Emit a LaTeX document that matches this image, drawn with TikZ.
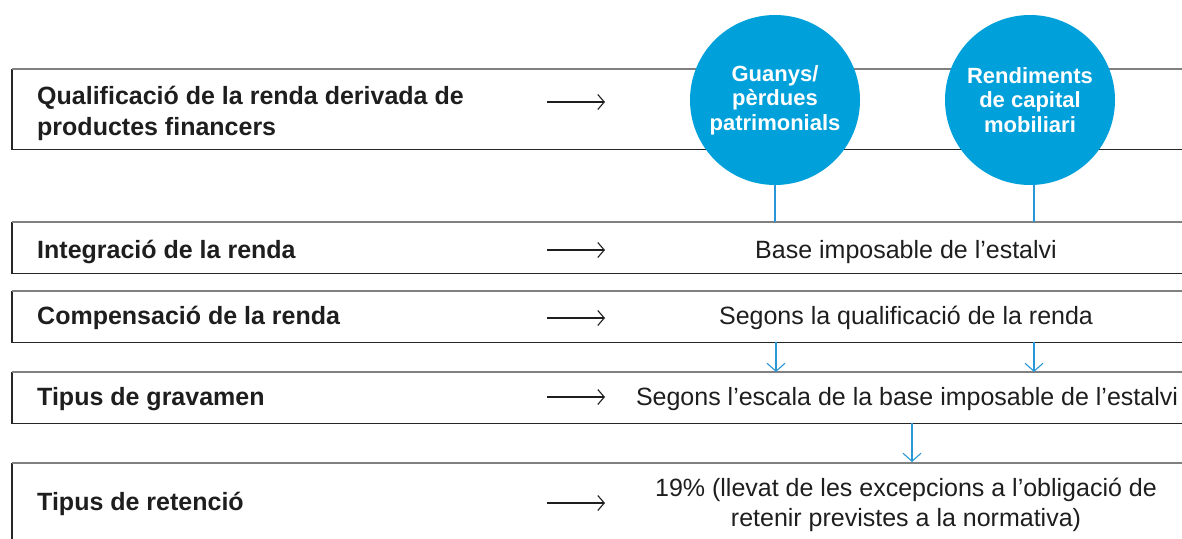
\documentclass[tikz,border=0pt]{standalone}
\usepackage{fontspec}
\setmainfont{Liberation Sans}
\usetikzlibrary{arrows.meta,calc}
\definecolor{cblue}{RGB}{0,160,218}
\definecolor{lblue}{RGB}{40,150,215}
\definecolor{txt}{RGB}{30,30,30}
\begin{document}
\begin{tikzpicture}[x=1pt,y=-1pt,
  topl/.style={draw=black!50,line width=1.3pt},
  botl/.style={draw=black!85,line width=1.1pt},
  lab/.style={anchor=west,inner sep=0pt,font=\bfseries\fontsize{25}{31}\selectfont,text=txt,align=left},
  res/.style={inner sep=0pt,font=\fontsize{25}{30}\selectfont,text=txt,align=center},
  circ/.style={circle,fill=cblue,minimum size=170pt,inner sep=0pt,text=white,align=center,font=\bfseries\fontsize{22}{24.5}\selectfont},
  harr/.style={-{Straight Barb[length=6.5pt,width=15pt,line width=1.1pt]},line width=1.2pt,draw=txt},
  varr/.style={-{Straight Barb[length=8pt,width=18pt]},line width=1.1pt,draw=lblue},
  vline/.style={line width=1.1pt,draw=lblue},
  boxn/.style={inner sep=0pt,anchor=north west}]
\useasboundingbox (0,0) rectangle (1182,538);
% boxes (invisible named nodes spanning each band)
\node[boxn,minimum width=1170pt,minimum height=80pt] (b1) at (12,69) {};
\node[boxn,minimum width=1170pt,minimum height=51pt] (b2) at (12,222) {};
\node[boxn,minimum width=1170pt,minimum height=51pt] (b3) at (12,291) {};
\node[boxn,minimum width=1170pt,minimum height=51pt] (b4) at (12,372) {};
\node[boxn,minimum width=1170pt,minimum height=76pt] (b5) at (12,463) {};
\foreach \b in {b1,b2,b3,b4}{
  \draw[botl] (\b.north west) -- (\b.south west) -- (\b.south east);
  \draw[topl] (\b.north west) -- (\b.north east);
}
\draw[botl] (b5.north west) -- (b5.south west);
\draw[topl] (b5.north west) -- (b5.north east);
% circles
\node[circ] (c1) at (775,100) {Guanys/\\pèrdues\\patrimonials};
\node[circ] (c2) at (1030,100) {Rendiments\\de capital\\mobiliari};
% labels
\node[lab] (l1) at (37,113) {Qualificació de la renda derivada de\\productes financers};
\node[lab] (l2) at (37,252) {Integració de la renda};
\node[lab] (l3) at (37,318) {Compensació de la renda};
\node[lab] (l4) at (37,399) {Tipus de gravamen};
\node[lab] (l5) at (37,504) {Tipus de retenció};
% arrows
\foreach \y/\n in {102/1,250/2,318/3,397/4,503/5}{
  \coordinate (a\n) at (547,\y); \coordinate (e\n) at (605,\y);
  \draw[harr] (a\n) -- (e\n);
}
% results
\node[res] (r2) at (906,252) {Base imposable de l’estalvi};
\node[res] (r3) at (906,318) {Segons la qualificació de la renda};
\node[res] (r4) at (907,399) {Segons l’escala de la base imposable de l’estalvi};
\node[res] (r5) at (906,505) {19\% (llevat de les excepcions a l’obligació de\\retenir previstes a la normativa)};
% connectors
\draw[vline] (c1.south) -- (c1.south |- b2.north);
\draw[vline] (1034,185) -- (1034,222);
\coordinate (p1) at (776,342); \coordinate (q1) at (776,372);
\coordinate (p2) at (1034,342); \coordinate (q2) at (1034,372);
\draw[varr] (p1) -- (q1);
\draw[varr] (p2) -- (q2);
\coordinate (p3) at (912,423); \coordinate (q3) at (912,462);
\draw[varr] (p3) -- (q3);
\end{tikzpicture}
\end{document}
